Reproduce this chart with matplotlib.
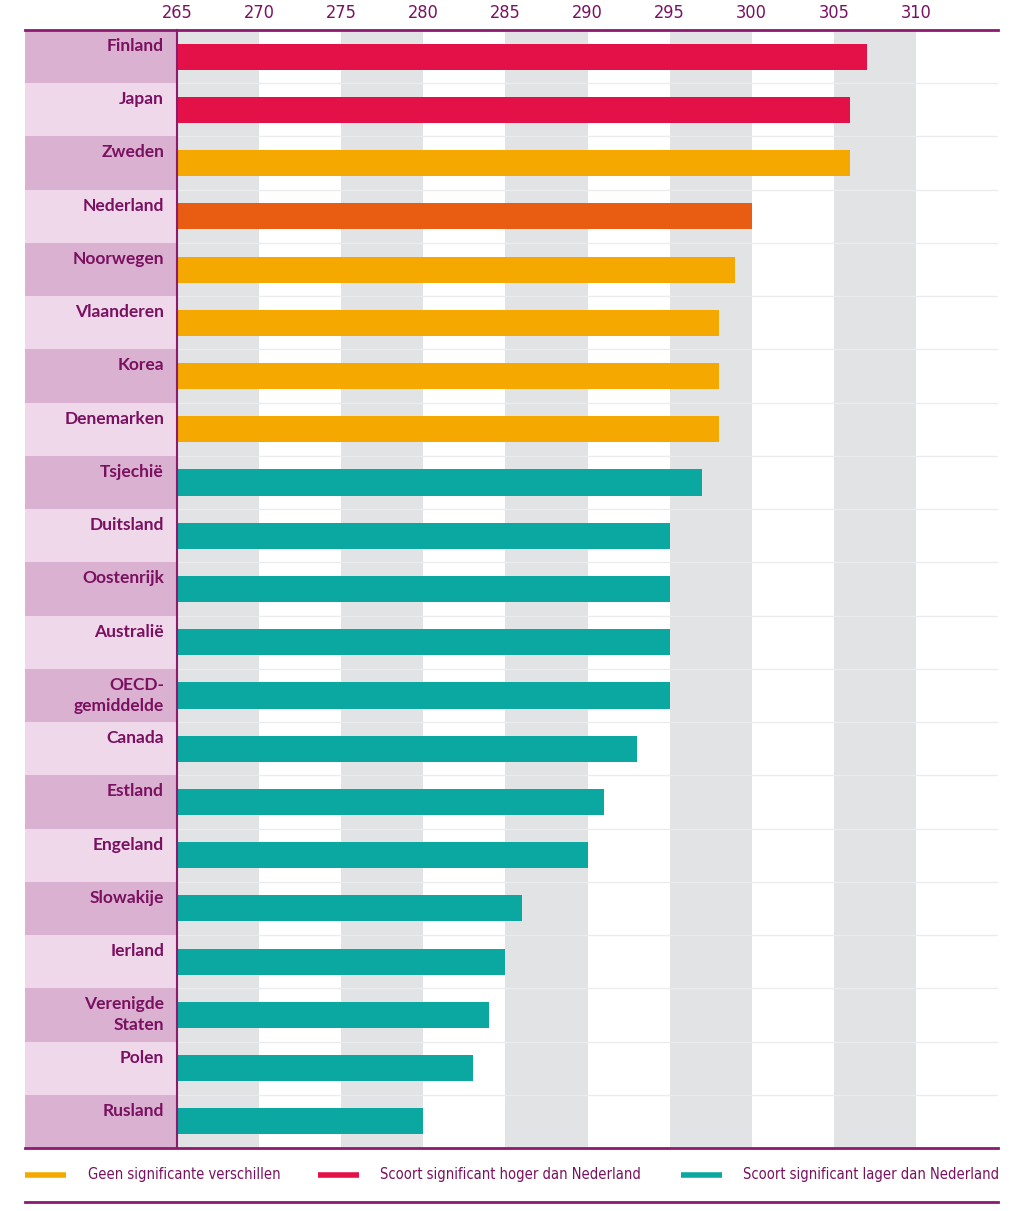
import matplotlib.pyplot as plt
from matplotlib.lines import Line2D
from matplotlib.patches import Rectangle

# data
countries = ['Finland', 'Japan', 'Zweden', 'Nederland', 'Noorwegen', 'Vlaanderen',
             'Korea', 'Denemarken', 'Tsjechië', 'Duitsland', 'Oostenrijk', 'Australië',
             'OECD-\ngemiddelde', 'Canada', 'Estland', 'Engeland', 'Slowakije', 'Ierland',
             'Verenigde\nStaten', 'Polen', 'Rusland']
scores = [307, 306, 306, 300, 299, 298, 298, 298, 297, 295, 295, 295, 295,
          293, 291, 290, 286, 285, 284, 283, 280]
groups = ['hoger', 'hoger', 'geen', 'nl', 'geen', 'geen', 'geen', 'geen',
          'lager', 'lager', 'lager', 'lager', 'lager', 'lager', 'lager', 'lager',
          'lager', 'lager', 'lager', 'lager', 'lager']
ticks = [265, 270, 275, 280, 285, 290, 295, 300, 305, 310]
legend_labels = ['Geen significante verschillen', 'Scoort significant hoger dan Nederland',
                 'Scoort significant lager dan Nederland']

colors = {'hoger': '#e31148', 'geen': '#f5a900', 'nl': '#e85d12', 'lager': '#0aa8a0'}
purple = '#7a1060'
line_purple = '#8c1a6e'
cond = dict(family='DejaVu Sans', stretch='condensed')

W, H = 1024, 1211
fig = plt.figure(figsize=(W / 100, H / 100), dpi=100)
left, right, top, bottom = 177, 998, 30, 1148
ax = fig.add_axes([left / W, 1 - bottom / H, (right - left) / W, (bottom - top) / H])

n = len(countries)
ax.set_xlim(265, 315)
ax.set_ylim(n - 0.5, -0.5)

# grey vertical bands
for x0 in range(265, 310, 10):
    ax.axvspan(x0, x0 + 5, color='#e2e3e5', lw=0, zorder=0)
# row separator lines
for i in range(n + 1):
    ax.axhline(i - 0.5, color='#ececec', lw=1, zorder=0.5)

ax.barh(range(n), [s - 265 for s in scores], left=265, height=0.49,
        color=[colors[g] for g in groups], zorder=2)

# label column
lab_left = (25 - left) / (right - left)
tr = ax.get_yaxis_transform()
for i, name in enumerate(countries):
    c = '#dab1d0' if i % 2 == 0 else '#efd8ea'
    ax.add_patch(Rectangle((lab_left, i - 0.5), -lab_left, 1, transform=tr,
                           color=c, lw=0, clip_on=False, zorder=1))
    ax.text(-13 / (right - left), i - 0.5 + 0.15, name, transform=tr, ha='right',
            va='top', fontsize=12.5, fontweight='bold', family='Lato', color=purple,
            linespacing=1.4, zorder=3)

for s in ['right', 'bottom', 'top']:
    ax.spines[s].set_visible(False)
ax.spines['left'].set_color(line_purple)
ax.spines['left'].set_linewidth(1.5)
ax.spines['left'].set_zorder(4)

ax.set_yticks([])
ax.xaxis.tick_top()
ax.set_xticks(ticks)
ax.tick_params(axis='x', length=0, pad=6, labelsize=13, labelcolor=purple)
for t in ax.get_xticklabels():
    t.set_family('DejaVu Sans')
    t.set_stretch('condensed')

# horizontal rules
for y in [top, bottom, 1202]:
    fig.add_artist(Line2D([25 / W, right / W], [1 - y / H, 1 - y / H],
                          color=line_purple, lw=2))

# legend
leg = [(25, 88, colors['geen']), (318, 380, colors['hoger']), (681, 743, colors['lager'])]
for (x0, xt, c), lab in zip(leg, legend_labels):
    fig.add_artist(Line2D([x0 / W, (x0 + 41) / W], [1 - 1175 / H] * 2, color=c, lw=4,
                          solid_capstyle='butt'))
    fig.text(xt / W, 1 - 1175 / H, lab, ha='left', va='center', fontsize=10.5,
             color=purple, **cond)

fig.savefig('out.png', dpi=100)
